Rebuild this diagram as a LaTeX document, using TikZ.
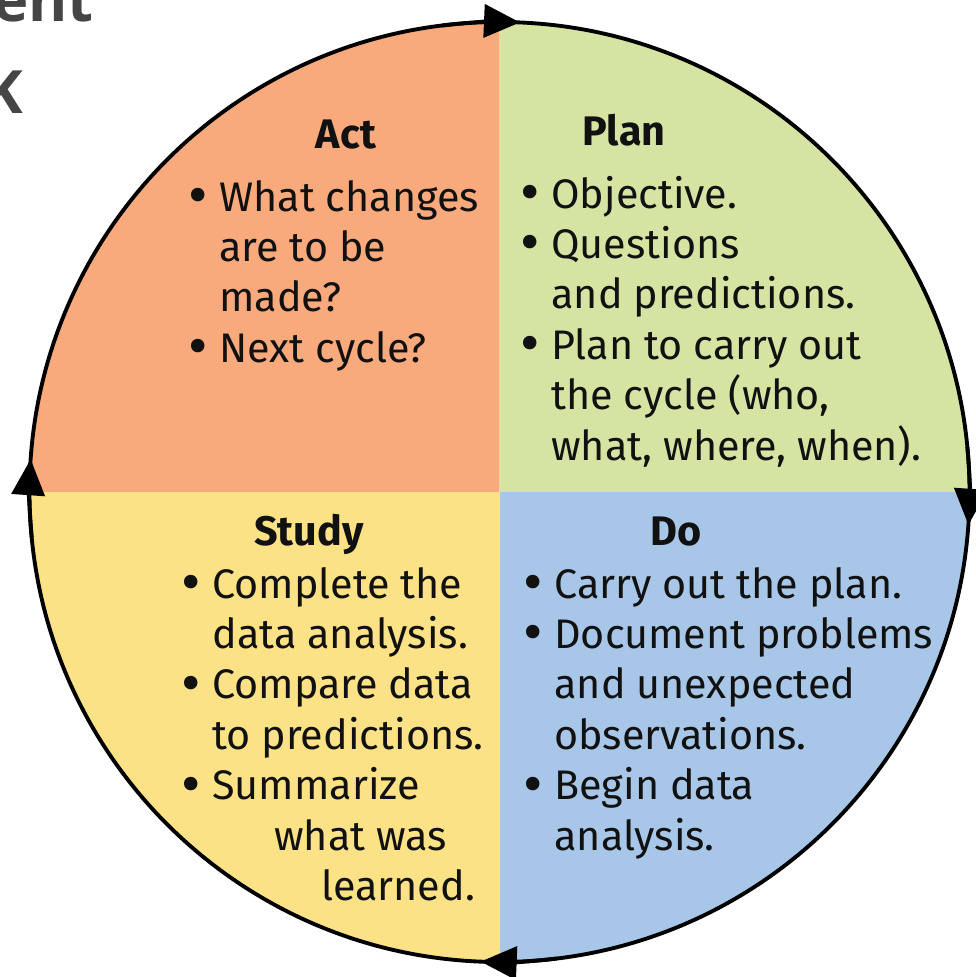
\documentclass[tikz,border=0pt]{standalone}
\usepackage{fontspec}
\setmainfont{Fira Sans}
\newfontfamily\slidefont{Open Sans}
\usepackage{xcolor}
\usepackage{tikz}
\usetikzlibrary{positioning,arrows.meta}

\definecolor{actorange}{HTML}{F8AA7D}
\definecolor{plangreen}{HTML}{D6E4A3}
\definecolor{studyyellow}{HTML}{FCE286}
\definecolor{doblue}{HTML}{A8C6E7}
\definecolor{textcol}{HTML}{111111}
\definecolor{slidegray}{HTML}{454545}

\newcommand{\bul}{\makebox[0.62cm][l]{\raisebox{-0.1em}{\scalebox{1.45}{\textbullet}}}}
\newcommand{\ind}{\hspace*{0.62cm}}

\begin{document}
\begin{tikzpicture}[x=0.02cm,y=0.02cm,
    titlenode/.style={anchor=base, inner sep=0pt, text=textcol, font=\fontsize{23.5}{28.74}\selectfont\bfseries},
    listnode/.style={anchor=base west, inner sep=0pt, text=textcol, font=\fontsize{23.5}{28.74}\selectfont},
    slidetext/.style={anchor=base east, inner sep=0pt, text=slidegray, font=\slidefont\bfseries\fontsize{34}{40}\selectfont},
    cyclearrow/.style={line width=2.2pt, -{Triangle[length=0.72cm,width=0.66cm]}},]
            \useasboundingbox (0,0) rectangle (976,-977);
            \coordinate (centre) at (499.5,-492);

            %Quadrants
            \fill[actorange] (centre) -- ++(180:470) arc[start angle=180, end angle=90, radius=470] -- cycle;
            \fill[plangreen] (centre) -- ++(90:470) arc[start angle=90, end angle=0, radius=470] -- cycle;
            \fill[doblue] (centre) -- ++(0:470) arc[start angle=0, end angle=-90, radius=470] -- cycle;
            \fill[studyyellow] (centre) -- ++(270:470) arc[start angle=270, end angle=180, radius=470] -- cycle;

            %Nodes
            \node[slidetext](slidetitle) at (94,-21){ent};
            \node[slidetext](slidesub) at (24,-113){K};

            \node[titlenode](act) at (346,-148){Act};
            \node[listnode](actlist) at (188,-211){\begin{tabular}[t]{@{}l@{}}
                \bul What changes\\ \ind are to be\\ \ind made?\\ \bul Next cycle?\end{tabular}};
            \node[titlenode](plan) at (624,-145){Plan};
            \node[listnode](planlist) at (520,-208){\begin{tabular}[t]{@{}l@{}}
                \bul Objective.\\ \bul Questions\\ \ind and predictions.\\ \bul Plan to carry out\\
                \ind the cycle (who,\\ \ind what, where, when).\end{tabular}};
            \node[titlenode](study) at (309,-545){Study};
            \node[listnode](studylist) at (181,-598){\begin{tabular}[t]{@{}l@{}}
                \bul Complete the\\ \ind data analysis.\\ \bul Compare data\\ \ind to predictions.\\
                \bul Summarize\\ \hspace*{1.86cm}what was\\ \hspace*{2.8cm}learned.\end{tabular}};
            \node[titlenode](do) at (676,-545){Do};
            \node[listnode](dolist) at (523,-598){\begin{tabular}[t]{@{}l@{}}
                \bul Carry out the plan.\\ \bul Document problems\\ \ind and unexpected\\ \ind observations.\\
                \bul Begin data\\ \ind analysis.\end{tabular}};

            %Lines
            \draw[line width=2.2pt] (centre) circle[radius=470];
            \draw[cyclearrow] (centre) ++(97:470) arc[start angle=97, end angle=87.5, radius=470];
            \draw[cyclearrow] (centre) ++(5.5:470) arc[start angle=5.5, end angle=-4, radius=470];
            \draw[cyclearrow] (centre) ++(277:470) arc[start angle=277, end angle=267.7, radius=470];
            \draw[cyclearrow] (centre) ++(185.5:470) arc[start angle=185.5, end angle=176, radius=470];
\end{tikzpicture}
\end{document}
